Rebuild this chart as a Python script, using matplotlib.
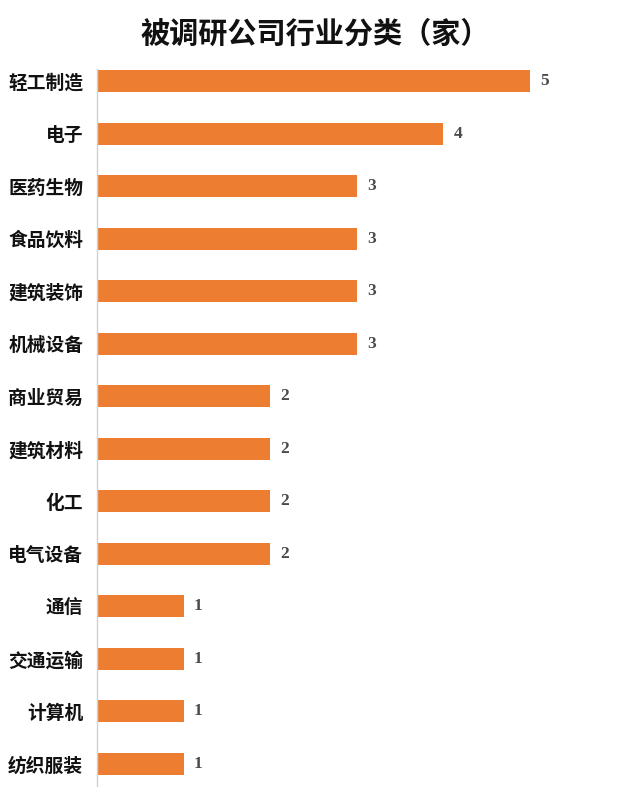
import matplotlib
matplotlib.use("Agg")
import matplotlib.pyplot as plt

categories = ["轻工制造", "电子", "医药生物", "食品饮料", "建筑装饰", "机械设备",
              "商业贸易", "建筑材料", "化工", "电气设备", "通信", "交通运输",
              "计算机", "纺织服装"]
values = [5, 4, 3, 3, 3, 3, 2, 2, 2, 2, 1, 1, 1, 1]
title = "被调研公司行业分类（家）"

plt.rcParams['font.family'] = ['Noto Sans CJK SC', 'DejaVu Sans']

W, H = 640, 787
fig = plt.figure(figsize=(W / 100, H / 100), dpi=100)
ax = fig.add_axes([97 / W, 0, (625 - 97) / W, (H - 69) / H])

y = list(range(len(categories)))
ax.barh(y, values, height=0.42, color="#ED7D31", zorder=2)
ax.set_ylim(13.44, -0.23)
ax.set_xlim(0, 6.1)

for yi, v in zip(y, values):
    ax.text(v + 0.12, yi, str(v), va="center", ha="left",
            fontsize=12.5, fontweight="bold", color="#4a4a4a",
            family=["Liberation Serif", "DejaVu Serif"])

ax.set_yticks(y)
ax.set_yticklabels(categories, fontsize=13.5, fontweight="bold", color="#111111")
ax.tick_params(axis="y", length=0, pad=10)
ax.set_xticks([])
for s in ["top", "right", "bottom"]:
    ax.spines[s].set_visible(False)
ax.spines["left"].set_color("#D0D0D0")
ax.spines["left"].set_linewidth(1.0)

fig.text(315 / W, 1 - 34 / H, title, ha="center", va="center",
         fontsize=21, fontweight="bold", color="#111111")

fig.savefig("out.png", dpi=100)
